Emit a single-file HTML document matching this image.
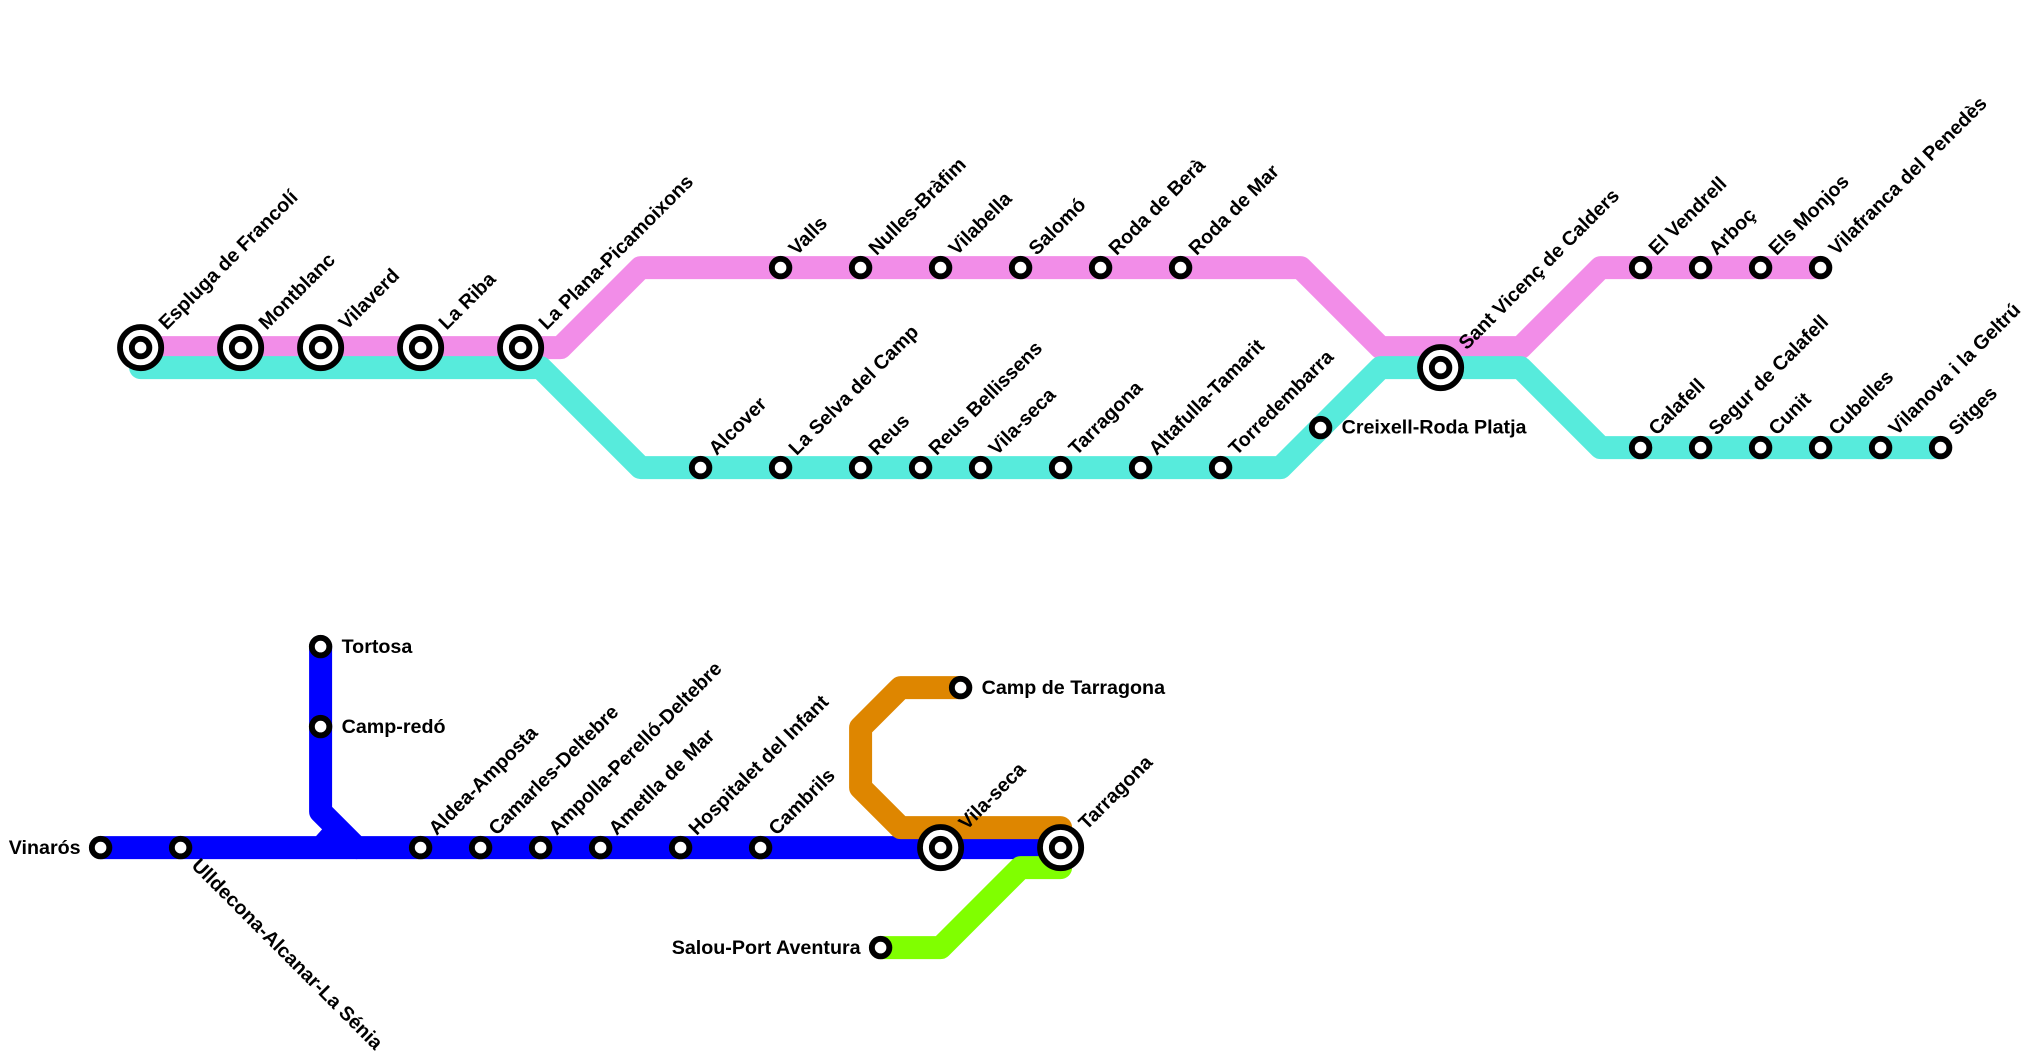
<!DOCTYPE html>
<html>
<head>
<meta charset="utf-8">
<style>
  html, body { margin: 0; padding: 0; background: #ffffff; }
  body { width: 2022px; height: 1052px; overflow: hidden; }
  svg { display: block; }
  text { font-family: "Liberation Sans", Arial, sans-serif; font-weight: bold; font-size: 19.7px; fill: #000; }
</style>
</head>
<body>
<svg width="2022" height="1052" viewBox="0 0 2022 1052" xmlns="http://www.w3.org/2000/svg">
<rect x="0" y="0" width="2022" height="1052" fill="#ffffff"/>
<g transform="translate(0.6,-0.4)">
  <!-- Lines -->
  <g fill="none" stroke-width="23" stroke-linecap="round" stroke-linejoin="round">
    <path stroke="#f28de8" d="M140,348 H560 L640,268 H1300 L1380,348 H1520 L1600,268 H1820"/>
    <path stroke="#57ebdc" d="M140,368 H540 L640,468 H1280 L1380,368 H1520 L1600,448 H1940"/>
    <path stroke="#0000ff" d="M100,848 H1060"/>
    <path stroke="#0000ff" d="M320,647 V812 L356,848"/>
    <path stroke="#de8600" d="M960,688 H900 L860,728 V788 L900,828 H1060"/>
    <path stroke="#80ff00" d="M880,948 H940 L1020,868 H1060"/>
  </g>
  <polygon fill="#0000ff" points="323,828 315,837 332,837"/>

  <!-- Interchange stations -->
  <g fill="#ffffff" stroke="#000">
    <g stroke-width="5.8">
      <circle cx="140" cy="348" r="20.6"/>
      <circle cx="240" cy="348" r="20.6"/>
      <circle cx="320" cy="348" r="20.6"/>
      <circle cx="420" cy="348" r="20.6"/>
      <circle cx="520" cy="348" r="20.6"/>
      <circle cx="1440" cy="368" r="20.6"/>
      <circle cx="940" cy="848" r="20.6"/>
      <circle cx="1060" cy="848" r="20.6"/>
    </g>
    <g stroke-width="5.9">
      <circle cx="140" cy="348" r="8.75"/>
      <circle cx="240" cy="348" r="8.75"/>
      <circle cx="320" cy="348" r="8.75"/>
      <circle cx="420" cy="348" r="8.75"/>
      <circle cx="520" cy="348" r="8.75"/>
      <circle cx="1440" cy="368" r="8.75"/>
      <circle cx="940" cy="848" r="8.75"/>
      <circle cx="1060" cy="848" r="8.75"/>

      <!-- Regular stations -->
      <circle cx="780" cy="268" r="8.75"/>
      <circle cx="860" cy="268" r="8.75"/>
      <circle cx="940" cy="268" r="8.75"/>
      <circle cx="1020" cy="268" r="8.75"/>
      <circle cx="1100" cy="268" r="8.75"/>
      <circle cx="1180" cy="268" r="8.75"/>
      <circle cx="1640" cy="268" r="8.75"/>
      <circle cx="1700" cy="268" r="8.75"/>
      <circle cx="1760" cy="268" r="8.75"/>
      <circle cx="1820" cy="268" r="8.75"/>

      <circle cx="700" cy="468" r="8.75"/>
      <circle cx="780" cy="468" r="8.75"/>
      <circle cx="860" cy="468" r="8.75"/>
      <circle cx="920" cy="468" r="8.75"/>
      <circle cx="980" cy="468" r="8.75"/>
      <circle cx="1060" cy="468" r="8.75"/>
      <circle cx="1140" cy="468" r="8.75"/>
      <circle cx="1220" cy="468" r="8.75"/>
      <circle cx="1320" cy="428" r="8.75"/>

      <circle cx="1640" cy="448" r="8.75"/>
      <circle cx="1700" cy="448" r="8.75"/>
      <circle cx="1760" cy="448" r="8.75"/>
      <circle cx="1820" cy="448" r="8.75"/>
      <circle cx="1880" cy="448" r="8.75"/>
      <circle cx="1940" cy="448" r="8.75"/>

      <circle cx="320" cy="647" r="8.75"/>
      <circle cx="320" cy="727" r="8.75"/>
      <circle cx="100" cy="848" r="8.75"/>
      <circle cx="180" cy="848" r="8.75"/>
      <circle cx="420" cy="848" r="8.75"/>
      <circle cx="480" cy="848" r="8.75"/>
      <circle cx="540" cy="848" r="8.75"/>
      <circle cx="600" cy="848" r="8.75"/>
      <circle cx="680" cy="848" r="8.75"/>
      <circle cx="760" cy="848" r="8.75"/>
      <circle cx="960" cy="688" r="8.75"/>
      <circle cx="880" cy="948" r="8.75"/>
    </g>
  </g>

  <!-- Labels: interchange rotated -->
  <text transform="translate(166,331) rotate(-45)">Espluga de Francolí</text>
  <text transform="translate(266,331) rotate(-45)">Montblanc</text>
  <text transform="translate(346,331) rotate(-45)">Vilaverd</text>
  <text transform="translate(446,331) rotate(-45)">La Riba</text>
  <text transform="translate(546,331) rotate(-45)">La Plana-Picamoixons</text>
  <text transform="translate(1466,351) rotate(-45)">Sant Vicenç de Calders</text>
  <text transform="translate(966,831) rotate(-45)">Vila-seca</text>
  <text transform="translate(1086,831) rotate(-45)">Tarragona</text>

  <!-- Pink upper row -->
  <text transform="translate(796,256.5) rotate(-45)">Valls</text>
  <text transform="translate(876,256.5) rotate(-45)">Nulles-Bràfim</text>
  <text transform="translate(956,256.5) rotate(-45)">Vilabella</text>
  <text transform="translate(1036,256.5) rotate(-45)">Salomó</text>
  <text transform="translate(1116,256.5) rotate(-45)">Roda de Berà</text>
  <text transform="translate(1196,256.5) rotate(-45)">Roda de Mar</text>
  <text transform="translate(1656,256.5) rotate(-45)">El Vendrell</text>
  <text transform="translate(1716,256.5) rotate(-45)">Arboç</text>
  <text transform="translate(1776,256.5) rotate(-45)">Els Monjos</text>
  <text transform="translate(1836,256.5) rotate(-45)">Vilafranca del Penedès</text>

  <!-- Teal lower row -->
  <text transform="translate(716,456.5) rotate(-45)">Alcover</text>
  <text transform="translate(796,456.5) rotate(-45)">La Selva del Camp</text>
  <text transform="translate(876,456.5) rotate(-45)">Reus</text>
  <text transform="translate(936,456.5) rotate(-45)">Reus Bellissens</text>
  <text transform="translate(996,456.5) rotate(-45)">Vila-seca</text>
  <text transform="translate(1076,456.5) rotate(-45)">Tarragona</text>
  <text transform="translate(1156,456.5) rotate(-45)">Altafulla-Tamarit</text>
  <text transform="translate(1236,456.5) rotate(-45)">Torredembarra</text>
  <text x="1341" y="434">Creixell-Roda Platja</text>

  <!-- Teal right row -->
  <text transform="translate(1656,436.5) rotate(-45)">Calafell</text>
  <text transform="translate(1716,436.5) rotate(-45)">Segur de Calafell</text>
  <text transform="translate(1776,436.5) rotate(-45)">Cunit</text>
  <text transform="translate(1836,436.5) rotate(-45)">Cubelles</text>
  <text transform="translate(1896,436.5) rotate(-45)">Vilanova i la Geltrú</text>
  <text transform="translate(1956,436.5) rotate(-45)">Sitges</text>

  <!-- Bottom -->
  <text x="341" y="653.5">Tortosa</text>
  <text x="341" y="733.5">Camp-redó</text>
  <text x="80" y="854.5" text-anchor="end">Vinarós</text>
  <text transform="translate(190,867) rotate(45)">Ulldecona-Alcanar-La Sénia</text>
  <text transform="translate(436,836.5) rotate(-45)">Aldea-Amposta</text>
  <text transform="translate(496,836.5) rotate(-45)">Camarles-Deltebre</text>
  <text transform="translate(556,836.5) rotate(-45)">Ampolla-Perelló-Deltebre</text>
  <text transform="translate(616,836.5) rotate(-45)">Ametlla de Mar</text>
  <text transform="translate(696,836.5) rotate(-45)">Hospitalet del Infant</text>
  <text transform="translate(776,836.5) rotate(-45)">Cambrils</text>
  <text x="981" y="694.5">Camp de Tarragona</text>
  <text x="860" y="954.5" text-anchor="end">Salou-Port Aventura</text>
</g>
</svg>
</body>
</html>
